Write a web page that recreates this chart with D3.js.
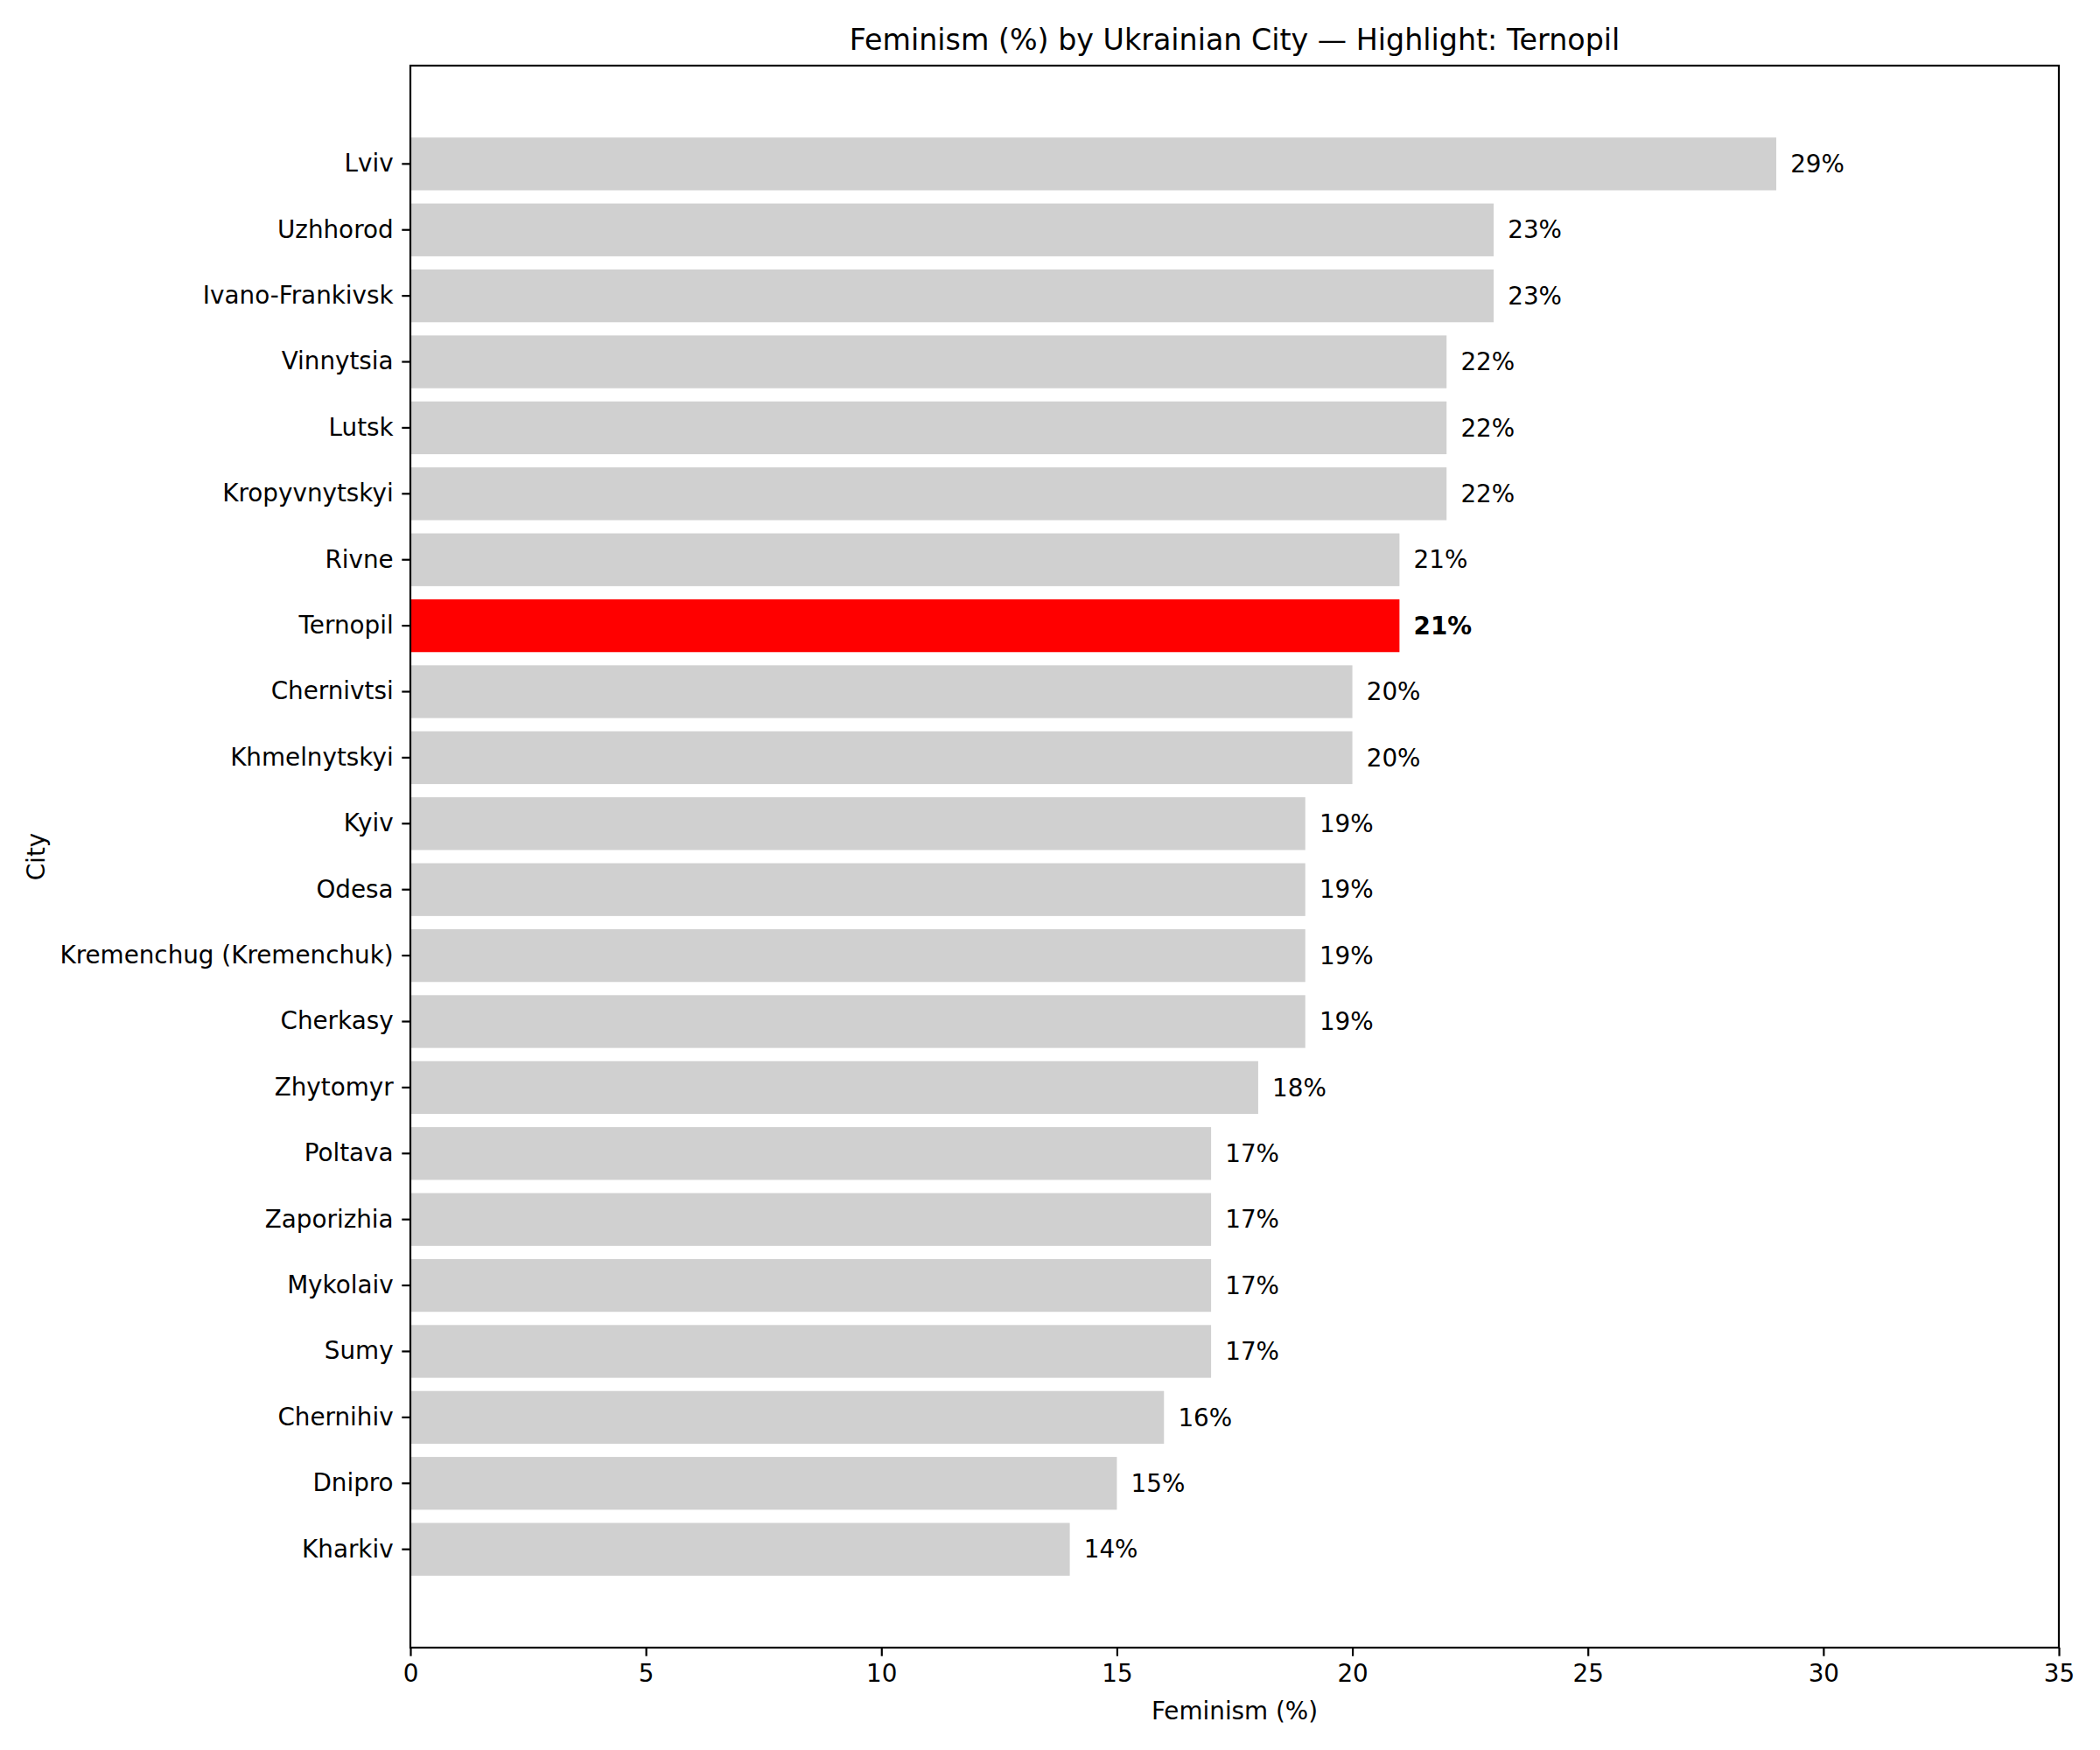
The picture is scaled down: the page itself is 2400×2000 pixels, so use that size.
<!DOCTYPE html>
<html>
<head>
<meta charset="utf-8">
<script src="https://cdn.jsdelivr.net/npm/d3@7"></script>
<style>
  body { margin: 0; background: #fff; }
  svg text { font-family: "DejaVu Sans", sans-serif; }
</style>
</head>
<body>
<div id="chart"></div>
<script>
// cities from top to bottom, with their feminism share (%)
var cities = ["Lviv", "Uzhhorod", "Ivano-Frankivsk", "Vinnytsia", "Lutsk", "Kropyvnytskyi",
  "Rivne", "Ternopil", "Chernivtsi", "Khmelnytskyi", "Kyiv", "Odesa",
  "Kremenchug (Kremenchuk)", "Cherkasy", "Zhytomyr", "Poltava", "Zaporizhia",
  "Mykolaiv", "Sumy", "Chernihiv", "Dnipro", "Kharkiv"];
var values = [29, 23, 23, 22, 22, 22, 21, 21, 20, 20, 19, 19, 19, 19, 18, 17, 17, 17, 17, 16, 15, 14];
var highlight = "Ternopil";
var xTicks = [0, 5, 10, 15, 20, 25, 30, 35];

function init() {
  var w = 2400;
  var h = 2000;
  // plot area
  var left = 469, right = 2353, top = 75, bottom = 1883;
  var tickLen = 9.7;

  var svg = d3.select("#chart")
    .append("svg")
    .attr("width", w)
    .attr("height", h);

  var x = d3.scaleLinear()
    .domain([0, 35])
    .range([left, right]);

  var y = d3.scaleBand()
    .domain(cities)
    .range([top, bottom])
    .paddingInner(0.2)
    .paddingOuter(1.09);

  var data = cities.map(function (c, i) {
    return { city: c, value: values[i] };
  });

  // bars
  svg.selectAll("rect.bar")
    .data(data)
    .enter()
    .append("rect")
    .attr("class", "bar")
    .attr("x", x(0))
    .attr("y", function (d) { return y(d.city); })
    .attr("width", function (d) { return x(d.value) - x(0); })
    .attr("height", y.bandwidth())
    .attr("fill", function (d) { return d.city === highlight ? "#ff0000" : "#d0d0d0"; });

  // value labels
  svg.selectAll("text.val")
    .data(data)
    .enter()
    .append("text")
    .attr("class", "val")
    .attr("x", function (d) { return x(d.value + 0.3); })
    .attr("y", function (d) { return y(d.city) + y.bandwidth() / 2; })
    .attr("dy", "0.35em")
    .style("font-size", "27.8px")
    .style("font-weight", function (d) { return d.city === highlight ? "bold" : "normal"; })
    .text(function (d) { return d.value + "%"; });

  // x axis
  var xAxis = svg.append("g")
    .attr("transform", "translate(0," + bottom + ")")
    .call(d3.axisBottom(x).tickValues(xTicks).tickSize(tickLen).tickPadding(9.7).tickFormat(d3.format("d")));
  xAxis.select(".domain").remove();
  xAxis.selectAll("line").attr("stroke", "#000").attr("stroke-width", 2.2);
  xAxis.selectAll("text")
    .style("font-size", "27.8px")
    .style("font-family", "DejaVu Sans")
    .attr("fill", "#000");

  // y axis
  var yAxis = svg.append("g")
    .attr("transform", "translate(" + left + ",0)")
    .call(d3.axisLeft(y).tickSize(tickLen).tickPadding(9.7));
  yAxis.select(".domain").remove();
  yAxis.selectAll("line").attr("stroke", "#000").attr("stroke-width", 2.2);
  yAxis.selectAll("text")
    .style("font-size", "27.8px")
    .style("font-family", "DejaVu Sans")
    .attr("fill", "#000");

  // frame
  svg.append("rect")
    .attr("x", left)
    .attr("y", top)
    .attr("width", right - left)
    .attr("height", bottom - top)
    .attr("fill", "none")
    .attr("stroke", "#000")
    .attr("stroke-width", 2.2);

  // title and axis labels
  svg.append("text")
    .attr("x", (left + right) / 2)
    .attr("y", 57)
    .attr("text-anchor", "middle")
    .style("font-size", "33.3px")
    .text("Feminism (%) by Ukrainian City — Highlight: Ternopil");

  svg.append("text")
    .attr("x", (left + right) / 2)
    .attr("y", 1965)
    .attr("text-anchor", "middle")
    .style("font-size", "27.8px")
    .text("Feminism (%)");

  svg.append("text")
    .attr("transform", "translate(51," + (top + bottom) / 2 + ") rotate(-90)")
    .attr("text-anchor", "middle")
    .style("font-size", "27.8px")
    .text("City");
}
window.onload = init;
</script>
</body>
</html>
